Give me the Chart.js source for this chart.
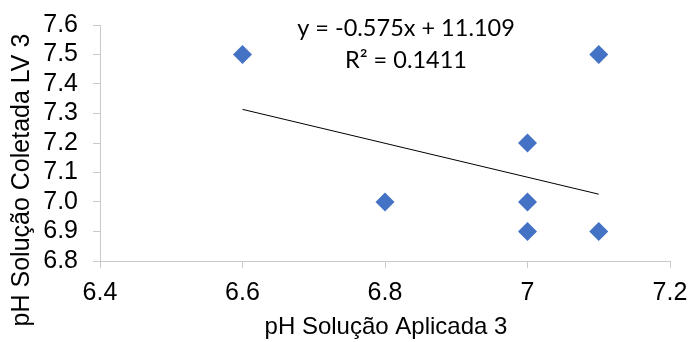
<!DOCTYPE html>
<html>
<head>
<meta charset="utf-8">
<script src="https://cdn.jsdelivr.net/npm/chart.js@4.4.1/dist/chart.umd.min.js"></script>
<style>
  html, body { margin: 0; padding: 0; background: #ffffff; }
  #wrap { width: 694px; height: 342px; }
</style>
</head>
<body>
<div id="wrap"><canvas id="c" width="694" height="342"></canvas></div>
<script>
// pH of applied solution (x) vs pH of collected solution LV 3 (y)
const applied   = [6.6, 7.1, 7.0, 6.8, 7.0, 7.0, 7.1];
const collected = [7.5, 7.5, 7.2, 7.0, 7.0, 6.9, 6.9];

// linear trendline, as reported
const slope = -0.575;
const intercept = 11.109;
const rSquared = 0.1411;

const xTickLabels = ['6.4', '6.6', '6.8', '7', '7.2'];
const yTickLabels = ['6.8', '6.9', '7.0', '7.1', '7.2', '7.3', '7.4', '7.5', '7.6'];

const xTitle = 'pH Solução Aplicada 3';
const yTitle = 'pH Solução Coletada LV 3';

const points = applied.map((x, i) => ({ x: x, y: collected[i] }));
const xMinData = Math.min(...applied);
const xMaxData = Math.max(...applied);
const trend = [xMinData, xMaxData].map(x => ({ x: x, y: slope * x + intercept }));

const axisGray = '#c9c9c9';
const tickFont = { family: 'Liberation Sans, Arial, sans-serif', size: 25 };

const overlay = {
  id: 'overlay',
  afterDraw(chart) {
    const ctx = chart.ctx;
    ctx.save();
    ctx.fillStyle = '#000000';
    // axis titles
    ctx.font = '24px "Liberation Sans", Arial, sans-serif';
    ctx.textAlign = 'center';
    ctx.textBaseline = 'alphabetic';
    ctx.fillText(xTitle, 386, 334);
    ctx.translate(29, 180);
    ctx.rotate(-Math.PI / 2);
    ctx.font = '25px "Liberation Sans", Arial, sans-serif';
    ctx.fillText(yTitle, 0, 0);
    ctx.restore();

    // trendline equation
    ctx.save();
    ctx.fillStyle = '#000000';
    ctx.font = '23.5px Lato, "Open Sans", sans-serif';
    ctx.textAlign = 'center';
    ctx.textBaseline = 'alphabetic';
    const eq = 'y = ' + slope.toFixed(3) + 'x + ' + intercept.toFixed(3);
    ctx.fillText(eq, 406, 36);
    ctx.fillText('R² = ' + rSquared.toFixed(4), 406, 68);
    ctx.restore();
  }
};

new Chart(document.getElementById('c'), {
  type: 'scatter',
  data: {
    datasets: [
      {
        label: 'trend',
        type: 'line',
        data: trend,
        borderColor: '#000000',
        borderWidth: 1,
        pointRadius: 0,
        fill: false,
        order: 2
      },
      {
        label: 'pH',
        data: points,
        pointStyle: 'rectRot',
        pointRadius: 9.5,
        pointHoverRadius: 9.5,
        backgroundColor: '#4472C4',
        borderColor: '#4472C4',
        borderWidth: 0,
        order: 1
      }
    ]
  },
  options: {
    responsive: false,
    animation: false,
    events: [],
    layout: { padding: { top: 25, right: 24, left: 0, bottom: 0 } },
    plugins: {
      legend: { display: false },
      tooltip: { enabled: false }
    },
    scales: {
      x: {
        type: 'linear',
        min: 6.4,
        max: 7.2,
        ticks: {
          stepSize: 0.2,
          autoSkip: false,
          color: '#000000',
          font: tickFont,
          padding: 10,
          maxRotation: 0,
          callback: (v, i) => xTickLabels[i]
        },
        grid: { drawOnChartArea: false, color: axisGray, tickLength: 7, lineWidth: 1 },
        border: { color: axisGray, width: 1 },
        afterFit(scale) { scale.height = 81; scale.paddingLeft = 0; scale.paddingRight = 0; }
      },
      y: {
        type: 'linear',
        min: 6.8,
        max: 7.6,
        ticks: {
          stepSize: 0.1,
          autoSkip: false,
          color: '#000000',
          font: tickFont,
          padding: 15,
          callback: (v, i) => yTickLabels[i]
        },
        grid: { drawOnChartArea: false, color: axisGray, tickLength: 7, lineWidth: 1 },
        border: { color: axisGray, width: 1 },
        afterFit(scale) { scale.width = 100; scale.paddingTop = 0; scale.paddingBottom = 0; }
      }
    }
  },
  plugins: [overlay]
});
</script>
</body>
</html>
